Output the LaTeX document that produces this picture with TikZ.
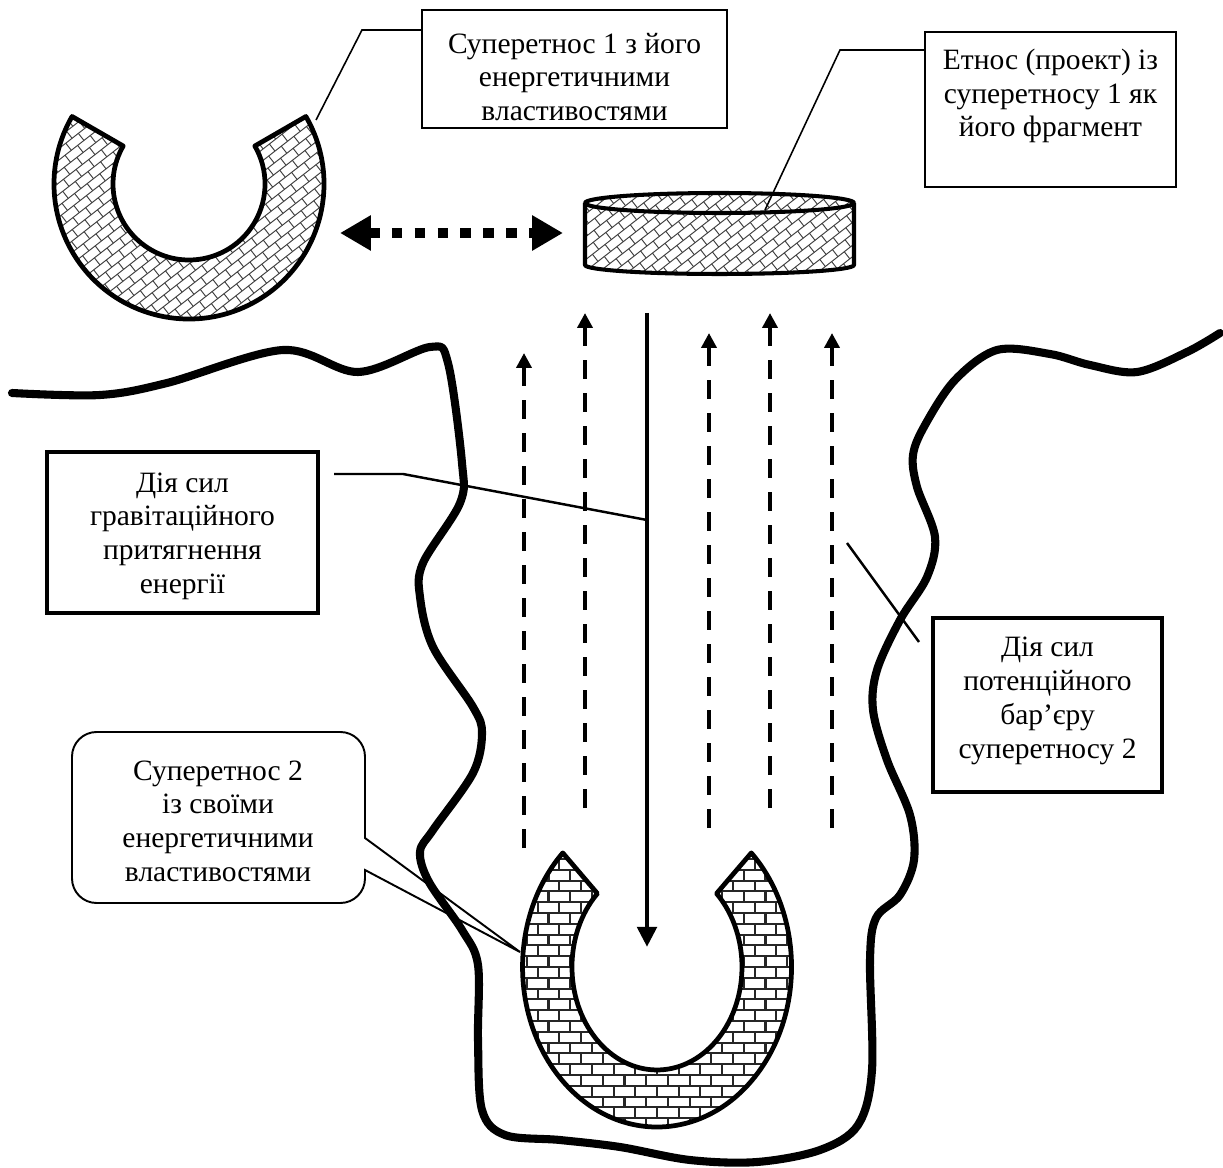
\documentclass[tikz,border=0pt]{standalone}
\usepackage{fontspec}
\setmainfont{Liberation Serif}
\usetikzlibrary{arrows.meta}
\newcommand\brickgrid[8]{% cx, cy, angle, w, h, nrows, ncols, style
  \begin{scope}[shift={(#1,#2)}, rotate=#3]
    \foreach \j in {-#6,...,#6}{
      \draw[#8] ({-(#7+1)*#4}, {\j*#5}) -- ({(#7+1)*#4}, {\j*#5});
      \pgfmathsetmacro\brkoff{mod(\j+1000,2)*0.5*#4}
      \foreach \i in {-#7,...,#7}{
        \draw[#8] ({\i*#4+\brkoff}, {\j*#5}) -- ++(0,#5);
      }
    }
  \end{scope}}
\begin{document}
\begin{tikzpicture}[x=0.02cm,y=0.02cm,
  txt/.style={font=\fontsize{16.8}{19.2}\selectfont, align=center, inner sep=0pt},
  thinbox/.style={draw, line width=0.9pt, inner sep=0pt},
  thickbox/.style={draw, line width=2.4pt, inner sep=0pt},
  leader/.style={line width=0.9pt},
  shapeline/.style={line width=2.7pt, line join=round},
  wave/.style={line width=4.6pt, line cap=round, line join=round},
  diagbrick/.style={line width=0.55pt, black!75},
  horbrick/.style={line width=1.2pt, black!85},
  uparrow/.style={line width=2.4pt, dash pattern=on 10.8pt off 8pt, -{Triangle[length=8.5pt,width=8.5pt]}},
  downarrow/.style={line width=2.8pt, -{Triangle[length=11.4pt,width=10.8pt]}},
  dblarrow/.style={line width=6pt, dash pattern=on 6pt off 7pt, {Triangle[length=17.6pt,width=19pt]}-{Triangle[length=17.6pt,width=19pt]}},
]
\useasboundingbox (0,0) rectangle (1223,-1168);

% ---------- top-left ring (superethnos 1)
\def\ringpath{(305.9,-116.5) arc[start angle=30,end angle=-210,radius=135] -- (123.2,-146) arc[start angle=-210,end angle=30,radius=76] -- cycle}
\begin{scope}
  \clip \ringpath;
  \brickgrid{189}{-184}{38}{16}{9}{24}{13}{diagbrick}
\end{scope}
\draw[shapeline] \ringpath;

% ---------- cylinder (ethnos project)
\def\cylpath{(585,-203) -- (585,-265) arc[start angle=180,end angle=360,x radius=134.5,y radius=9] -- (854,-203) arc[start angle=0,end angle=180,x radius=134.5,y radius=10] -- cycle}
\begin{scope}
  \clip \cylpath;
  \brickgrid{719.5}{-235}{38}{16}{9}{18}{10}{diagbrick}
\end{scope}
\draw[shapeline, line width=2.3pt] (585,-203) -- (585,-265) arc[start angle=180,end angle=360,x radius=134.5,y radius=9] -- (854,-203);
\draw[shapeline, line width=2.3pt] (719.5,-203) ellipse[x radius=134.5,y radius=10];

% ---------- bottom horseshoe (superethnos 2)
\def\shoepath{(751.3,-852.9) arc[start angle=45.5,end angle=-225.5,x radius=134.5,y radius=160] -- (597.4,-893.5) arc[start angle=-225.5,end angle=45.5,x radius=85,y radius=103] -- cycle}
\begin{scope}
  \clip \shoepath;
  \brickgrid{657}{-967}{0}{21.7}{10.8}{17}{8}{horbrick}
\end{scope}
\draw[shapeline] \shoepath;

% ---------- wavy barrier line
\draw[wave] plot[smooth, tension=0.55] coordinates {
 (12,-393) (100,-395) (167,-383) (283,-350) (358,-372) (430,-347) (448,-363)
 (462,-463) (460,-503) (423,-563) (420,-597) (433,-647) (473,-707) (482,-733)
 (473,-773) (433,-830) (420,-852) (429,-882) (462,-930) (478,-965) (478,-1040)
 (482,-1110) (505,-1135) (560,-1140) (620,-1147) (690,-1160) (757,-1162)
 (820,-1150) (858,-1125) (872,-1070) (870,-960) (876,-918) (900,-895) (914,-860)
 (910,-815) (887,-760) (873,-710) (877,-670) (900,-620) (927,-577) (935,-537)
 (917,-487) (913,-455) (925,-425) (955,-380) (997,-350) (1050,-354) (1090,-365)
 (1137,-372) (1187,-352) (1220,-333)};

% ---------- arrows
\coordinate (dl) at (340,-233);
\coordinate (dr) at (563,-233);
\draw[dblarrow] (dl) -- (dr);

\coordinate (a1s) at (524,-848); \coordinate (a1e) at (524,-353);
\coordinate (a2s) at (585,-808); \coordinate (a2e) at (585,-313);
\coordinate (a3s) at (709,-828); \coordinate (a3e) at (709,-333);
\coordinate (a4s) at (770,-808); \coordinate (a4e) at (770,-313);
\coordinate (a5s) at (832,-828); \coordinate (a5e) at (832,-333);
\foreach \k in {1,...,5} {\draw[uparrow] (a\k s) -- (a\k e);}

\coordinate (gs) at (647,-313);
\coordinate (ge) at (647,-947);
\draw[downarrow] (gs) -- (ge);

% ---------- boxes
\node[thinbox, minimum width=6.10cm, minimum height=2.36cm] (b1) at (574.5,-69) {};
\node[txt] (t1) at (574.5,-77) {Суперетнос 1 з його\\енергетичними\\властивостями};

\node[thinbox, line width=1.2pt, minimum width=5.02cm, minimum height=3.10cm] (b2) at (1050.5,-109.5) {};
\node[txt] (t2) at (1050.5,-96) {Етнос (проект) із\\суперетносу 1 як\\його фрагмент};

\node[thickbox, minimum width=5.42cm, minimum height=3.22cm] (b3) at (182.5,-532.5) {};
\node[txt] (t3) at (182.5,-536) {Дія сил\\гравітаційного\\притягнення\\енергії};

\node[thickbox, minimum width=4.58cm, minimum height=3.48cm] (b4) at (1047.5,-705) {};
\node[txt] (t4) at (1047.5,-701) {Дія сил\\потенційного\\бар’єру\\суперетносу 2};

\draw[line width=1.1pt] (72,-820) [rounded corners=14pt] -- (72,-732) -- (365,-732) -- (365,-790)
  [sharp corners] -- (365,-838) -- (520,-952) -- (365,-870) -- (365,-880)
  [rounded corners=14pt] -- (365,-903) -- (72,-903) -- (72,-820);
\node[txt] (t5) at (218,-821) {Суперетнос 2\\із своїми\\енергетичними\\властивостями};

% ---------- leader lines
\coordinate (l1a) at (316,-120); \coordinate (l1b) at (362,-30);
\draw[leader] (l1a) -- (l1b) -- (l1b -| b1.west);
\coordinate (l2a) at (765,-210); \coordinate (l2b) at (840,-50);
\draw[leader] (l2a) -- (l2b) -- (l2b -| b2.west);
\coordinate (l3a) at (334,-474); \coordinate (l3b) at (403,-474); \coordinate (l3c) at (647,-520);
\draw[leader, line width=1.4pt] (l3a) -- (l3b) -- (l3c);
\coordinate (l4a) at (847,-543); \coordinate (l4b) at (919,-642);
\draw[leader, line width=1.4pt] (l4a) -- (l4b);
\end{tikzpicture}
\end{document}
